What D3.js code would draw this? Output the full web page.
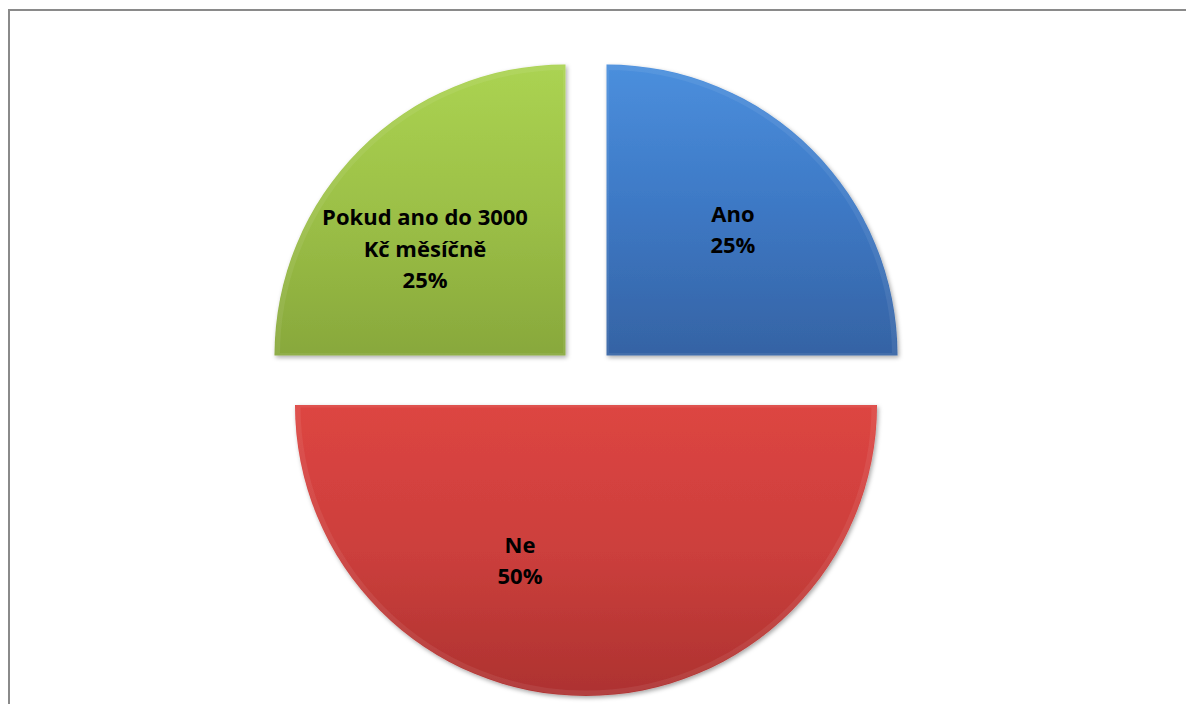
<!DOCTYPE html>
<html>
<head>
<meta charset="utf-8">
<script src="https://cdn.jsdelivr.net/npm/d3@7"></script>
<style>
  html, body { margin: 0; padding: 0; background: #ffffff; }
  svg { display: block; }
</style>
</head>
<body>
<svg id="chart" width="1186" height="704"></svg>
<script>
// ---- data ----
const categories = ["Ano", "Ne", "Pokud ano do 3000 Kč měsíčně"];
const labelLines = [["Ano"], ["Ne"], ["Pokud ano do 3000", "Kč měsíčně"]];
const values = [25, 50, 25];
const percentLabels = ["25%", "50%", "25%"];

// ---- styles ----
const gradients = [
  ["#4b8fdd", "#3d78c4", "#3563a4"],
  ["#dd4542", "#cc3f3c", "#ad3230"],
  ["#abd352", "#9cc047", "#88a83c"]
];
const labelNudges = [[3, -2], [-66, -19], [-17, 17]];

const W = 1186, H = 704;
const cx = 586, cy = 376, R = 291, explode = 29;

const svg = d3.select("#chart");
svg.append("rect").attr("width", W).attr("height", H).attr("fill", "#fff");
svg.append("rect").attr("x", 9).attr("y", 10).attr("width", 1300).attr("height", 900)
  .attr("fill", "none").attr("stroke", "#8a8a8a").attr("stroke-width", 2);

const defs = svg.append("defs");
gradients.forEach((g, i) => {
  const lg = defs.append("linearGradient").attr("id", "g" + i)
    .attr("x1", 0).attr("y1", 0).attr("x2", 0).attr("y2", 1);
  lg.append("stop").attr("offset", "0%").attr("stop-color", g[0]);
  lg.append("stop").attr("offset", "50%").attr("stop-color", g[1]);
  lg.append("stop").attr("offset", "100%").attr("stop-color", g[2]);
});
const f = defs.append("filter").attr("id", "shadow")
  .attr("x", "-10%").attr("y", "-10%").attr("width", "120%").attr("height", "120%");
f.append("feDropShadow").attr("dx", 1.5).attr("dy", 2).attr("stdDeviation", 2)
  .attr("flood-color", "#000").attr("flood-opacity", 0.35);

const pie = d3.pie().sort(null).value(d => d)(values);
const arc = d3.arc().innerRadius(0).outerRadius(R);
const labelArc = d3.arc().innerRadius(R * 0.6).outerRadius(R * 0.6);

const g = svg.append("g").attr("transform", `translate(${cx},${cy})`);

const slices = g.selectAll("g.slice").data(pie).join("g")
  .attr("class", "slice")
  .attr("transform", d => {
    const a = (d.startAngle + d.endAngle) / 2;
    return `translate(${Math.sin(a) * explode},${-Math.cos(a) * explode})`;
  });

slices.append("path")
  .attr("d", arc)
  .attr("fill", (d, i) => `url(#g${i})`)
  .attr("filter", "url(#shadow)");

// soft bevel highlight along edges
slices.append("path")
  .attr("d", d3.arc().innerRadius(0).outerRadius(R - 3))
  .attr("fill", "none")
  .attr("stroke", "rgba(255,255,255,0.07)")
  .attr("stroke-width", 5)
  .attr("stroke-linejoin", "round");

slices.each(function(d, i) {
  const [lx, ly] = labelArc.centroid(d);
  const lines = labelLines[i].concat([percentLabels[i]]);
  const lh = 31.5;
  const x = lx + labelNudges[i][0];
  const y0 = ly + labelNudges[i][1] - (lines.length - 1) * lh / 2;
  const t = d3.select(this).append("text")
    .attr("text-anchor", "middle")
    .attr("font-family", "'Open Sans', 'Liberation Sans', sans-serif")
    .attr("font-weight", 700)
    .attr("font-size", 22)
    .attr("fill", "#000");
  lines.forEach((s, k) => {
    t.append("tspan").attr("x", x).attr("y", y0 + k * lh).attr("dy", "0.35em").text(s);
  });
});
</script>
</body>
</html>
